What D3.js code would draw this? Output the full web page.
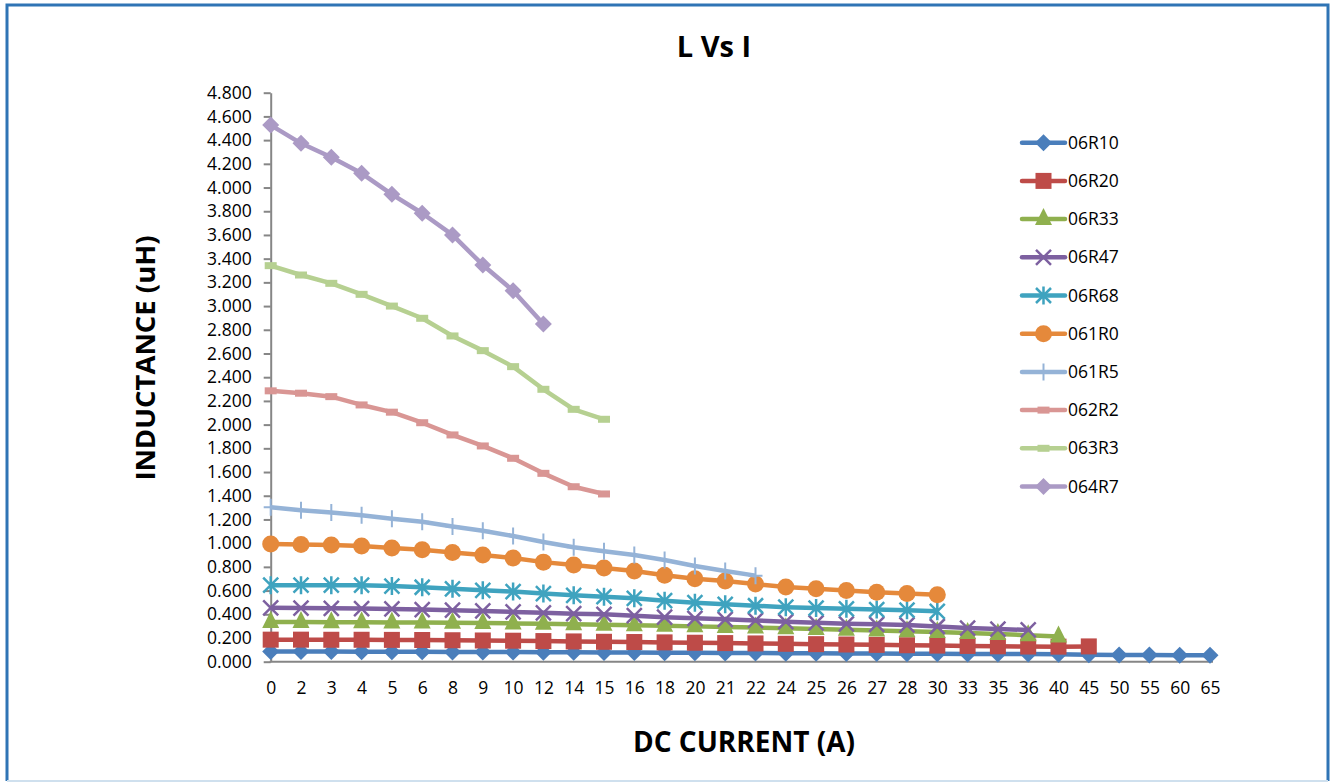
<!DOCTYPE html>
<html lang="en">

<head>
    <meta charset="UTF-8">
    <title>L Vs I</title>
    <style>
        body { margin: 0; background: #fff; }
        text { font-family: "Open Sans", "DejaVu Sans", sans-serif; }
    </style>
</head>

<body>
    <script src="https://d3js.org/d3.v7.min.js"></script>
    <script>
        // x categories (DC current, A)
        const currents = [0, 2, 3, 4, 5, 6, 8, 9, 10, 12, 14, 15, 16, 18, 20, 21, 22, 24, 25, 26, 27, 28, 30, 33, 35, 36, 40, 45, 50, 55, 60, 65];
        const yTicks = [0, 0.2, 0.4, 0.6, 0.8, 1.0, 1.2, 1.4, 1.6, 1.8, 2.0, 2.2, 2.4, 2.6, 2.8, 3.0, 3.2, 3.4, 3.6, 3.8, 4.0, 4.2, 4.4, 4.6, 4.8];

        // inductance values (uH), one array per part, starting at 0 A
        const s06R10 = [0.085, 0.085, 0.085, 0.084, 0.084, 0.083, 0.082, 0.082, 0.081, 0.080, 0.079, 0.078, 0.077, 0.076, 0.075, 0.074, 0.073, 0.072, 0.071, 0.070, 0.069, 0.068, 0.067, 0.066, 0.065, 0.064, 0.062, 0.058, 0.056, 0.056, 0.055, 0.055];
        const s06R20 = [0.186, 0.186, 0.185, 0.185, 0.184, 0.183, 0.181, 0.179, 0.177, 0.174, 0.171, 0.168, 0.166, 0.163, 0.160, 0.157, 0.154, 0.151, 0.148, 0.145, 0.142, 0.139, 0.136, 0.133, 0.130, 0.128, 0.127, 0.129];
        const s06R33 = [0.335, 0.334, 0.333, 0.332, 0.331, 0.330, 0.328, 0.326, 0.323, 0.320, 0.316, 0.312, 0.308, 0.303, 0.298, 0.293, 0.288, 0.282, 0.276, 0.270, 0.264, 0.257, 0.250, 0.242, 0.233, 0.224, 0.212];
        const s06R47 = [0.455, 0.452, 0.450, 0.448, 0.445, 0.440, 0.435, 0.428, 0.420, 0.412, 0.405, 0.400, 0.388, 0.376, 0.366, 0.358, 0.348, 0.338, 0.328, 0.320, 0.315, 0.310, 0.297, 0.284, 0.275, 0.268];
        const s06R68 = [0.645, 0.645, 0.645, 0.645, 0.638, 0.628, 0.615, 0.602, 0.592, 0.575, 0.560, 0.548, 0.535, 0.515, 0.498, 0.484, 0.472, 0.460, 0.452, 0.446, 0.440, 0.435, 0.425];
        const s061R0 = [0.993, 0.988, 0.985, 0.976, 0.960, 0.945, 0.922, 0.900, 0.875, 0.840, 0.815, 0.790, 0.765, 0.730, 0.700, 0.680, 0.655, 0.630, 0.615, 0.600, 0.585, 0.575, 0.565];
        const s061R5 = [1.302, 1.278, 1.258, 1.235, 1.205, 1.180, 1.140, 1.105, 1.060, 1.010, 0.965, 0.932, 0.900, 0.858, 0.807, 0.765, 0.726];
        const s062R2 = [2.285, 2.265, 2.236, 2.166, 2.105, 2.016, 1.913, 1.820, 1.716, 1.589, 1.476, 1.415];
        const s063R3 = [3.341, 3.262, 3.192, 3.099, 3.000, 2.897, 2.748, 2.624, 2.489, 2.298, 2.129, 2.045];
        const s064R7 = [4.527, 4.373, 4.255, 4.120, 3.943, 3.783, 3.600, 3.347, 3.130, 2.849];

        const seriesNames = ["06R10", "06R20", "06R33", "06R47", "06R68", "061R0", "061R5", "062R2", "063R3", "064R7"];
        const seriesValues = [s06R10, s06R20, s06R33, s06R47, s06R68, s061R0, s061R5, s062R2, s063R3, s064R7];
        const colors = ["#4a7ebb", "#be4b48", "#8fb04e", "#7d60a0", "#3fa3bf", "#e5893b", "#95b3d7", "#d99694", "#b6d091", "#ab9ac5"];
        const markers = ["diamond", "square", "triangle", "x", "star", "circle", "plus", "dash", "dash", "diamond"];

        const width = 1331, height = 782;
        const svg = d3.select("body").append("svg")
            .attr("width", width)
            .attr("height", height);

        // picture frame
        svg.append("rect").attr("x", 0).attr("y", 0).attr("width", width).attr("height", height).attr("fill", "#fff");
        svg.append("path")
            .attr("d", "M7,781 L7,5 L1328,5 L1328,781")
            .attr("fill", "none").attr("stroke", "#2f74b5").attr("stroke-width", 3);
        svg.append("line").attr("x1", 7).attr("x2", 1328).attr("y1", 781).attr("y2", 781)
            .attr("stroke", "#cfe0ee").attr("stroke-width", 2);

        var x = d3.scalePoint().domain(currents).range([270.7, 1210]);
        var y = d3.scaleLinear().domain([0, 4.8]).range([661.7, 92.7]);

        // y axis
        var yAxis = d3.axisLeft(y).tickValues(yTicks).tickFormat(d3.format(".3f"))
            .tickSize(7).tickSizeOuter(0).tickPadding(12);
        var gy = svg.append("g").attr("transform", "translate(270.7,0)").call(yAxis);
        gy.select(".domain").attr("stroke", "#868686").attr("stroke-width", 2);
        gy.selectAll(".tick line").attr("stroke", "#868686").attr("stroke-width", 2);
        gy.selectAll(".tick text").attr("font-size", 17.5).attr("fill", "#000")
            .style("font-family", '"Open Sans", sans-serif');

        // x axis
        var xAxis = d3.axisBottom(x).tickSize(0).tickPadding(20);
        var gx = svg.append("g").attr("transform", "translate(0,661.7)").call(xAxis);
        gx.select(".domain").remove();
        gx.append("line").attr("x1", 269.7).attr("x2", 1213).attr("y1", 0).attr("y2", 0)
            .attr("stroke", "#868686").attr("stroke-width", 2);
        gx.selectAll(".tick text").attr("font-size", 17.5).attr("fill", "#000")
            .style("font-family", '"Open Sans", sans-serif');

        function drawMarker(g, type, color) {
            if (type == "diamond") {
                g.append("path").attr("d", "M0,-8.5 L8.5,0 L0,8.5 L-8.5,0 Z").attr("fill", color);
            } else if (type == "square") {
                g.append("rect").attr("x", -8).attr("y", -8).attr("width", 16).attr("height", 16).attr("fill", color);
            } else if (type == "triangle") {
                g.append("path").attr("d", "M0,-11 L8.5,6 L-8.5,6 Z").attr("fill", color);
            } else if (type == "circle") {
                g.append("circle").attr("r", 8.5).attr("fill", color);
            } else if (type == "x") {
                g.append("path").attr("d", "M-7.5,-7.5 L7.5,7.5 M-7.5,7.5 L7.5,-7.5").attr("stroke", color).attr("stroke-width", 2.5);
            } else if (type == "star") {
                g.append("path").attr("d", "M-7.5,-7.5 L7.5,7.5 M-7.5,7.5 L7.5,-7.5 M0,-9 L0,9").attr("stroke", color).attr("stroke-width", 2.5);
            } else if (type == "plus") {
                g.append("path").attr("d", "M0,-8.5 L0,8.5 M-7,0 L7,0").attr("stroke", color).attr("stroke-width", 2);
            } else if (type == "dash") {
                g.append("rect").attr("x", -6).attr("y", -3.5).attr("width", 12).attr("height", 7).attr("fill", color);
            }
        }

        var line = d3.line()
            .x(function(d, i) { return x(currents[i]); })
            .y(function(d) { return y(d); });

        seriesValues.forEach(function(vals, k) {
            var g = svg.append("g");
            g.append("path").datum(vals)
                .attr("d", line)
                .attr("fill", "none")
                .attr("stroke", colors[k])
                .attr("stroke-width", 4.5)
                .attr("stroke-linejoin", "round");
            g.selectAll("g.pt").data(vals).enter().append("g")
                .attr("class", "pt")
                .attr("transform", function(d, i) {
                    return "translate(" + x(currents[i]) + "," + y(d) + ")";
                })
                .each(function() { drawMarker(d3.select(this), markers[k], colors[k]); });
        });

        // legend
        var legend = svg.append("g");
        seriesNames.forEach(function(name, k) {
            var ly = 142.7 + k * 38.2;
            var lg = legend.append("g").attr("transform", "translate(0," + ly + ")");
            lg.append("line").attr("x1", 1022).attr("x2", 1065).attr("y1", 0).attr("y2", 0)
                .attr("stroke", colors[k]).attr("stroke-width", 4.5).attr("stroke-linecap", "round");
            var mg = lg.append("g").attr("transform", "translate(1043.5,0)");
            drawMarker(mg, markers[k], colors[k]);
            lg.append("text").attr("x", 1068).attr("y", 0).attr("dy", "0.35em")
                .attr("font-size", 17.5).attr("fill", "#000").text(name);
        });

        // titles
        svg.append("text").attr("x", 714).attr("y", 57).attr("text-anchor", "middle")
            .attr("font-size", 29).attr("font-weight", "bold").text("L Vs I");
        svg.append("text").attr("x", 744).attr("y", 752).attr("text-anchor", "middle")
            .attr("font-size", 28).attr("font-weight", "bold").text("DC CURRENT (A)");
        svg.append("text").attr("transform", "translate(155,358) rotate(-90)")
            .attr("text-anchor", "middle")
            .attr("font-size", 27.5).attr("font-weight", "bold").text("INDUCTANCE (uH)");
    </script>
</body>

</html>
